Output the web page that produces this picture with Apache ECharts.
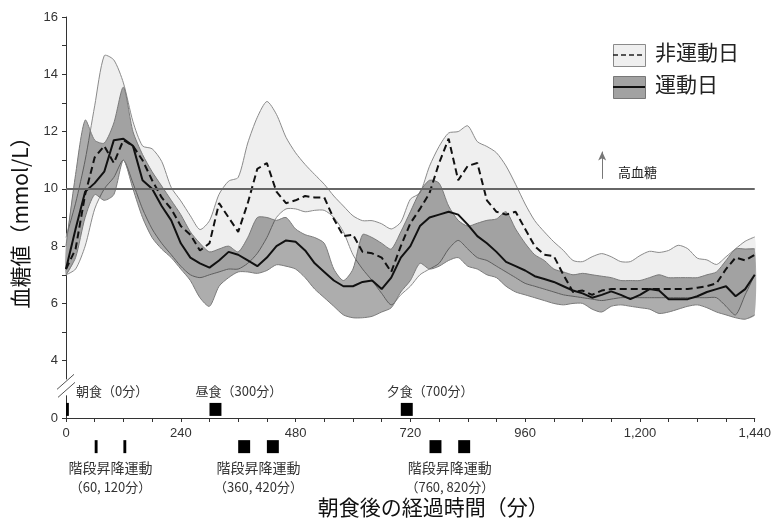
<!DOCTYPE html>
<html>
<head>
<meta charset="utf-8">
<script src="https://cdn.jsdelivr.net/npm/echarts@6.0.0/dist/echarts.min.js"></script>
<style>
  html, body { margin: 0; padding: 0; background: #fff; }
  #main { width: 774px; height: 523px; }
</style>
</head>
<body>
<div id="main"></div>
<script>
// 朝食後の経過時間（分）
var minutes = [0, 20, 40, 60, 80, 100, 120, 140, 160, 180, 200, 220, 240, 260, 280, 300, 320, 340, 360, 380,
  400, 420, 440, 460, 480, 500, 520, 540, 560, 580, 600, 620, 640, 660, 680, 700, 720, 740, 760, 780,
  800, 820, 840, 860, 880, 900, 920, 940, 960, 980, 1000, 1020, 1040, 1060, 1080, 1100, 1120, 1140, 1160, 1180,
  1200, 1220, 1240, 1260, 1280, 1300, 1320, 1340, 1360, 1380, 1400, 1420, 1440];

// 非運動日 (mmol/L)
var restMean = [7.2, 7.9, 9.8, 11.1, 11.5, 10.9, 11.7, 11.5, 11.0, 10.3, 9.7, 9.3, 8.7, 8.4, 7.85, 8.1, 9.5, 9.0, 8.5, 9.5,
  10.7, 10.9, 9.9, 9.5, 9.6, 9.75, 9.7, 9.7, 8.95, 8.35, 8.4, 7.8, 7.75, 7.6, 7.1, 8.0, 8.8, 9.3, 9.85, 10.9,
  11.75, 10.3, 10.8, 10.9, 9.6, 9.2, 9.1, 9.2, 8.6, 8.0, 7.7, 7.65, 7.0, 6.4, 6.45, 6.3, 6.45, 6.5, 6.5, 6.5,
  6.5, 6.5, 6.5, 6.5, 6.5, 6.5, 6.55, 6.6, 6.7, 7.2, 7.6, 7.5, 7.7];
var restLower = [7.0, 7.2, 8.0, 9.3, 10.0, 10.4, 11.0, 10.2, 9.3, 8.6, 8.1, 7.7, 7.3, 7.0, 6.9, 7.0, 7.1, 7.2, 7.2, 7.4,
  7.75, 8.3, 9.0, 9.3, 9.3, 9.2, 9.25, 9.25, 9.0, 8.5, 7.7, 7.2, 6.8, 6.35, 5.95, 6.3, 6.6, 7.0, 7.2, 7.4,
  7.9, 8.2, 7.9, 7.6, 7.5, 7.3, 7.1, 6.9, 6.7, 6.6, 6.5, 6.4, 6.3, 6.25, 6.2, 6.15, 6.1, 6.15, 6.2, 6.2,
  6.2, 6.2, 6.2, 6.2, 6.2, 6.2, 6.2, 6.2, 6.2, 5.9, 5.6, 6.3, 7.0];
var restUpper = [8.3, 9.5, 11.0, 12.9, 14.65, 14.5, 13.7, 12.35, 11.5, 11.4, 10.96, 10.05, 9.58, 9.06, 8.58, 8.89, 9.81, 10.27, 10.4, 11.6,
  12.5, 13.05, 12.6, 11.8, 11.26, 10.85, 10.5, 10.16, 9.75, 9.4, 9.06, 8.89, 8.89, 8.78, 8.6, 8.84, 9.64, 9.86, 10.79, 11.48,
  11.95, 12.0, 12.2, 11.65, 11.48, 11.26, 10.8, 10.16, 9.47, 8.89, 8.5, 8.15, 7.85, 7.5, 7.46, 7.63, 7.74, 7.63, 7.46, 7.46,
  7.67, 7.82, 7.78, 7.85, 8.03, 7.91, 7.58, 7.52, 7.36, 7.63, 7.91, 8.17, 8.32];

// 運動日 (mmol/L)
var exMean = [7.2, 8.6, 9.9, 10.2, 10.6, 11.7, 11.75, 11.5, 10.3, 10.0, 9.4, 8.9, 8.1, 7.6, 7.4, 7.25, 7.5, 7.8, 7.7, 7.5,
  7.3, 7.6, 8.0, 8.2, 8.15, 7.85, 7.4, 7.1, 6.8, 6.6, 6.6, 6.75, 6.8, 6.5, 6.9, 7.6, 8.0, 8.7, 9.0, 9.1,
  9.2, 9.1, 8.75, 8.35, 8.1, 7.8, 7.45, 7.3, 7.15, 6.95, 6.85, 6.75, 6.6, 6.45, 6.35, 6.2, 6.3, 6.42, 6.3, 6.15,
  6.3, 6.5, 6.45, 6.15, 6.15, 6.15, 6.25, 6.4, 6.5, 6.6, 6.25, 6.5, 7.0];
var exLower = [7.0, 7.6, 9.0, 9.8, 9.6, 9.8, 11.0, 10.0, 9.0, 8.3, 7.9, 7.6, 7.2, 6.8, 6.2, 5.9, 6.6, 6.9, 7.1, 7.1,
  7.05, 7.15, 7.35, 7.3, 7.2, 6.9, 6.5, 6.2, 5.9, 5.6, 5.5, 5.5, 5.55, 5.7, 5.85, 6.4, 6.8, 7.4, 7.2, 7.3,
  7.5, 7.6, 7.3, 7.2, 7.0, 6.9, 6.6, 6.4, 6.3, 6.2, 6.1, 6.0, 5.95, 6.0, 6.0, 5.8, 5.7, 5.9, 5.95, 5.9,
  5.85, 5.8, 5.65, 5.7, 5.8, 5.9, 5.95, 5.85, 5.7, 5.6, 5.5, 5.45, 5.6];
var exUpper = [8.0, 10.5, 12.4, 11.7, 11.6, 12.3, 13.55, 12.0, 11.2, 10.6, 10.1, 9.6, 9.1, 8.5, 8.1, 7.8, 7.9, 8.0, 7.8, 8.3,
  9.0, 9.0, 8.9, 9.0, 8.6, 8.4, 8.3, 8.1, 7.2, 6.8, 7.2, 8.4, 8.3, 8.1, 7.9, 8.5, 9.2, 9.9, 10.3, 10.2,
  9.4, 8.9, 8.7, 8.8, 8.9, 8.95, 9.2, 8.6, 8.1, 7.7, 7.5, 7.2, 7.1, 7.0, 7.05, 7.0, 6.95, 6.9, 6.8, 6.8,
  6.8, 6.9, 7.0, 6.9, 6.9, 6.9, 6.9, 7.0, 7.1, 7.5, 7.9, 7.9, 7.9];

// 食事と運動（開始時刻・長さ、分）
var mealNames = ['朝食', '昼食', '夕食'];
var mealTimes = [0, 300, 700];
var mealLengths = [6, 25, 25];
var exerciseTimes = [[60, 120], [360, 420], [760, 820]];
var exerciseLengths = [6, 25, 25];

var hyperThreshold = 10;
var yTicks = [16, 14, 12, 10, 8, 6, 4];
var xTicks = [0, 240, 480, 720, 960, 1200, 1440];

// 軸は2から始めて、2を「0」と表示（省略線あり）
var AXIS_FLOOR = 2;
var MEAL_ROW = 2.3;
var EX_ROW = 1.0;

var FONT = '"Liberation Sans", "Noto Sans CJK JP", sans-serif';
var CJK = '"Noto Sans CJK JP", sans-serif';

function pairs(ys) {
  return minutes.map(function (t, i) { return [t, ys[i]]; });
}

// 上限と下限の間を塗る帯
function bandSeries(name, lo, hi, fill, stroke, z) {
  return {
    name: name,
    type: 'custom',
    silent: true,
    z: z,
    data: minutes.map(function (t, i) { return [t, lo[i], hi[i]]; }),
    renderItem: function (params, api) {
      if (params.dataIndexInside !== 0) return null;
      var n = params.dataInsideLength;
      var top = [], bottom = [];
      for (var i = 0; i < n; i++) {
        var t = api.value(0, i);
        top.push(api.coord([t, api.value(2, i)]));
        bottom.push(api.coord([t, api.value(1, i)]));
      }
      return {
        type: 'group',
        children: [
          { type: 'polygon', shape: { points: top.concat(bottom.slice().reverse()), smooth: 0.25 }, style: { fill: fill, stroke: null } },
          { type: 'polyline', shape: { points: top, smooth: 0.25 }, style: { fill: null, stroke: stroke, lineWidth: 1 } },
          { type: 'polyline', shape: { points: bottom, smooth: 0.25 }, style: { fill: null, stroke: stroke, lineWidth: 1 } }
        ]
      };
    }
  };
}

var chart = echarts.init(document.getElementById('main'));

var option = {
  animation: false,
  grid: { left: 66, right: 13, top: 17, bottom: 102 },
  xAxis: {
    type: 'value',
    min: 0,
    max: 1440,
    interval: 240,
    name: '朝食後の経過時間（分）',
    nameLocation: 'middle',
    nameGap: 79,
    nameTextStyle: { fontFamily: CJK, fontSize: 21, color: '#111', padding: [0, 0, 0, 46] },
    axisLine: { lineStyle: { color: '#333', width: 1 } },
    axisTick: { length: 4, lineStyle: { color: '#333' } },
    minorTick: { show: true, splitNumber: 4, length: 4, lineStyle: { color: '#333' } },
    splitLine: { show: false },
    axisLabel: {
      margin: 9,
      fontFamily: FONT,
      fontSize: 13,
      color: '#333',
      formatter: function (v) { return xTicks.indexOf(v) >= 0 ? v.toLocaleString('en-US') : ''; }
    }
  },
  yAxis: {
    type: 'value',
    min: AXIS_FLOOR,
    max: 16,
    interval: 2,
    name: '血糖値（mmol/L）',
    nameLocation: 'middle',
    nameGap: 35,
    nameTextStyle: { fontFamily: CJK, fontSize: 21, color: '#111' },
    axisLine: { show: true, lineStyle: { color: '#333', width: 1 } },
    axisTick: { show: true, length: 4, lineStyle: { color: '#333' } },
    minorTick: { show: true, splitNumber: 2, length: 4, lineStyle: { color: '#333' } },
    splitLine: { show: false },
    axisLabel: {
      margin: 8,
      fontFamily: FONT,
      fontSize: 13,
      color: '#333',
      formatter: function (v) {
        if (v === AXIS_FLOOR) return '0';
        return yTicks.indexOf(v) >= 0 ? String(v) : '';
      }
    }
  },
  series: [
    bandSeries('非運動日', restLower, restUpper, '#efefef', '#8a8a8a', 1),
    bandSeries('運動日', exLower, exUpper, 'rgba(0,0,0,0.32)', '#7a7a7a', 2),
    // 平均値
    {
      name: 'restMean', type: 'line', data: pairs(restMean), symbol: 'none',
      lineStyle: { color: '#111', width: 2, type: [7, 4] }, silent: true, z: 4
    },
    {
      name: 'exMean', type: 'line', data: pairs(exMean), symbol: 'none',
      lineStyle: { color: '#111', width: 2 }, silent: true, z: 4,
      markLine: {
        silent: true,
        symbol: 'none',
        label: { show: false },
        data: [
          { yAxis: hyperThreshold, lineStyle: { color: '#666', width: 2, type: 'solid' } },
          [
            { coord: [1121, hyperThreshold + 0.35], symbol: 'none' },
            { coord: [1121, hyperThreshold + 1.3], symbol: 'arrow', symbolSize: [6, 9] }
          ]
        ],
        lineStyle: { color: '#777', width: 1, type: 'solid' }
      },
      markPoint: {
        silent: true,
        data: [{
          coord: [1154, hyperThreshold + 0.6], symbol: 'circle', symbolSize: 0,
          label: {
            show: true, formatter: '高血糖', position: 'inside', align: 'left',
            fontFamily: CJK, fontSize: 13, color: '#222'
          }
        }]
      }
    },
    // 食事
    {
      name: 'meals', type: 'custom', silent: true, z: 5,
      data: mealTimes.map(function (t, i) { return [t, mealLengths[i], i]; }),
      renderItem: function (params, api) {
        var t = api.value(0), len = api.value(1), i = api.value(2);
        var p0 = api.coord([t, MEAL_ROW]);
        var p1 = api.coord([t + len, MEAL_ROW]);
        var labelX = i === 0 ? p0[0] + 10 : p0[0] - 14;
        return {
          type: 'group',
          children: [
            { type: 'rect', shape: { x: p0[0], y: p0[1] - 6.5, width: p1[0] - p0[0], height: 13 }, style: { fill: '#000' } },
            {
              type: 'text', x: labelX, y: p0[1] - 18,
              style: {
                text: mealNames[i] + '（' + t + '分）', fill: '#333',
                font: '13px ' + CJK, align: 'left', verticalAlign: 'middle'
              }
            }
          ]
        };
      }
    },
    // 階段昇降運動
    {
      name: 'exercise', type: 'custom', silent: true, z: 5,
      data: exerciseTimes.map(function (p, i) { return [p[0], p[1], exerciseLengths[i]]; }),
      renderItem: function (params, api) {
        var a = api.value(0), b = api.value(1), len = api.value(2);
        var pa0 = api.coord([a, EX_ROW]), pa1 = api.coord([a + len, EX_ROW]);
        var pb0 = api.coord([b, EX_ROW]), pb1 = api.coord([b + len, EX_ROW]);
        var mid = (pa0[0] + pb1[0]) / 2;
        return {
          type: 'group',
          children: [
            { type: 'rect', shape: { x: pa0[0], y: pa0[1] - 6.5, width: pa1[0] - pa0[0], height: 13 }, style: { fill: '#000' } },
            { type: 'rect', shape: { x: pb0[0], y: pb0[1] - 6.5, width: pb1[0] - pb0[0], height: 13 }, style: { fill: '#000' } },
            {
              type: 'text', x: mid, y: pa0[1] + 21,
              style: { text: '階段昇降運動', fill: '#333', font: '14px ' + CJK, align: 'center', verticalAlign: 'middle' }
            },
            {
              type: 'text', x: mid, y: pa0[1] + 40,
              style: { text: '（' + a + ', ' + b + '分）', fill: '#333', font: '13px ' + CJK, align: 'center', verticalAlign: 'middle' }
            }
          ]
        };
      }
    }
  ],
  graphic: [
    { type: 'rect', left: 613, top: 44, shape: { width: 32, height: 22 }, style: { fill: '#efefef', stroke: '#8a8a8a', lineWidth: 1 } },
    { type: 'line', shape: { x1: 613, y1: 55, x2: 645, y2: 55 }, style: { stroke: '#222', lineWidth: 1.5, lineDash: [5, 3] } },
    { type: 'text', left: 655, top: 42, style: { text: '非運動日', font: '21px ' + CJK, fill: '#222' } },
    { type: 'rect', left: 613, top: 76, shape: { width: 32, height: 22 }, style: { fill: '#a2a2a2', stroke: '#777', lineWidth: 1 } },
    { type: 'line', shape: { x1: 613, y1: 87, x2: 645, y2: 87 }, style: { stroke: '#111', lineWidth: 2 } },
    { type: 'text', left: 655, top: 74, style: { text: '運動日', font: '21px ' + CJK, fill: '#222' } }
  ]
};

chart.setOption(option);

// 縦軸の省略線
var axisX = chart.convertToPixel({ xAxisIndex: 0 }, 0);
var breakY = chart.convertToPixel({ yAxisIndex: 0 }, 3);
chart.setOption({
  graphic: option.graphic.concat([
    { type: 'rect', shape: { x: axisX - 6, y: breakY - 10, width: 12, height: 16 }, style: { fill: '#fff' }, z: 100 },
    { type: 'line', shape: { x1: axisX - 9, y1: breakY, x2: axisX + 8, y2: breakY - 15 }, style: { stroke: '#555', lineWidth: 1 }, z: 101 },
    { type: 'line', shape: { x1: axisX - 8, y1: breakY + 8, x2: axisX + 9, y2: breakY - 7 }, style: { stroke: '#555', lineWidth: 1 }, z: 101 }
  ])
});
</script>
</body>
</html>
